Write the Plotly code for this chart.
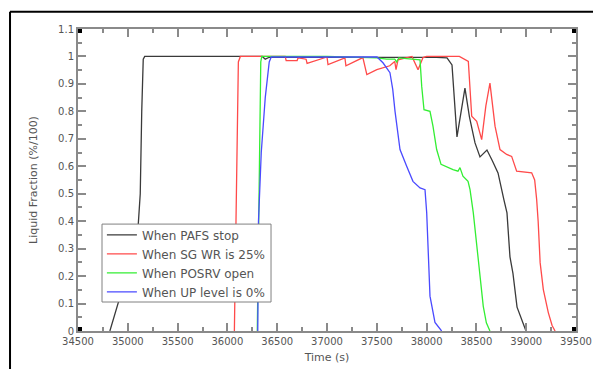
import plotly.graph_objects as go

# ---- data (time in s, liquid fraction) ----
pafs_t = [34820, 34920, 35000, 35100, 35125, 35140, 35155, 35170, 36350, 36380, 36420,
          37000, 37800, 38100, 38205, 38255, 38305, 38345, 38385, 38430, 38486, 38536, 38606,
          38660, 38717, 38777, 38807, 38837, 38867, 38908, 38968, 38998]
pafs_v = [0.0, 0.12, 0.22, 0.36, 0.5, 0.8, 0.99, 1.0, 1.0, 0.99, 0.997,
          0.997, 0.998, 0.997, 0.995, 0.969, 0.707, 0.8, 0.885, 0.78, 0.685, 0.634, 0.659,
          0.62, 0.576, 0.477, 0.43, 0.27, 0.21, 0.087, 0.029, 0.0]

sgwr_t = [36070, 36090, 36110, 36130, 36580, 36590, 36700, 36710, 36790, 36800,
          37000, 37010, 37180, 37190, 37360, 37400, 37500, 37630, 37680, 37693, 37713,
          37853, 37914, 37964, 38000, 38329, 38419, 38453, 38503, 38553, 38595, 38636,
          38687, 38737, 38804, 38854, 38904, 39055, 39085, 39105, 39120, 39140, 39172,
          39222, 39260, 39290]
sgwr_v = [0.0, 0.5, 0.98, 1.0, 1.0, 0.985, 0.985, 0.995, 0.99, 0.975,
          0.998, 0.970, 0.995, 0.966, 0.996, 0.934, 0.952, 0.966, 0.982, 0.952, 0.988,
          1.0, 0.952, 0.996, 1.0, 1.0, 0.982, 0.782, 0.764, 0.697, 0.82, 0.903,
          0.746, 0.661, 0.643, 0.636, 0.582, 0.576, 0.55, 0.479, 0.40, 0.249, 0.151,
          0.067, 0.02, 0.0]

posrv_t = [36300, 36320, 36335, 36345, 37000, 37500, 37600, 37680, 37700, 37720,
           37880, 37900, 37934, 37951, 37974, 38034, 38064, 38101, 38145, 38265, 38315,
           38335, 38365, 38416, 38436, 38469, 38503, 38536, 38569, 38600, 38636]
posrv_v = [0.0, 0.5, 0.98, 1.0, 1.0, 0.995, 0.99, 0.99, 0.98, 0.995,
           0.99, 0.988, 0.988, 0.891, 0.806, 0.800, 0.746, 0.661, 0.607, 0.588, 0.582,
           0.595, 0.564, 0.545, 0.515, 0.43, 0.309, 0.187, 0.09, 0.03, 0.0]

uplv_t = [36305, 36312, 36340, 36380, 36420, 36440, 37502, 37562, 37632, 37660,
          37683, 37733, 37800, 37863, 37934, 37984, 38001, 38017, 38034, 38084, 38151]
uplv_v = [0.0, 0.4, 0.65, 0.85, 0.98, 0.998, 0.998, 0.977, 0.941, 0.88,
          0.80, 0.661, 0.60, 0.545, 0.521, 0.515, 0.431, 0.249, 0.127, 0.031, 0.0]

names = ["When PAFS stop", "When SG WR is 25%", "When POSRV open", "When UP level is 0%"]
colors = ["#3a3a3a", "#ff4a4a", "#33ee33", "#4a4aff"]
series = [(pafs_t, pafs_v), (sgwr_t, sgwr_v), (posrv_t, posrv_v), (uplv_t, uplv_v)]

X_RANGE = [34500, 39500]
Y_RANGE = [0, 1.1]

fig = go.Figure()
for (t, v), n, c in zip(series, names, colors):
    fig.add_trace(go.Scatter(x=t, y=v, mode="lines", name=n,
                             line=dict(color=c, width=1.3)))

axis_col = "#8a8a8a"
tick_font = dict(family="DejaVu Sans", size=10, color="#555555")

fig.update_xaxes(range=X_RANGE, dtick=500, tick0=34500, tickformat="d", ticks="inside", ticklen=8,
                 tickwidth=1.5, tickcolor=axis_col, showline=True, linecolor=axis_col,
                 linewidth=2, mirror="ticks", showgrid=False, zeroline=False,
                 tickfont=tick_font, automargin=False,
                 minor=dict(dtick=250, ticks="inside", ticklen=4, tickcolor=axis_col, tickwidth=1.5),
                 title=dict(text="Time (s)", font=dict(family="DejaVu Sans", size=11, color="#555555"),
                            standoff=7))
fig.update_yaxes(range=Y_RANGE, dtick=0.1, tick0=0, ticks="inside", ticklen=8,
                 tickwidth=1.5, tickcolor=axis_col, showline=True, linecolor=axis_col,
                 linewidth=2, mirror="ticks", showgrid=False, zeroline=False,
                 tickfont=tick_font, automargin=False,
                 minor=dict(dtick=0.05, ticks="inside", ticklen=4, tickcolor=axis_col, tickwidth=1.5),
                 title=dict(text="Liquid Fraction (%/100)",
                            font=dict(family="DejaVu Sans", size=11, color="#555555"), standoff=18))

# corner squares
shapes = []
for cx in X_RANGE:
    for cy in Y_RANGE:
        shapes.append(dict(type="rect", xref="x", yref="y", xsizemode="pixel", ysizemode="pixel",
                           xanchor=cx, yanchor=cy, x0=-4, x1=4, y0=-4, y1=4,
                           fillcolor="black", line=dict(width=0), layer="above"))
# outer frame (top and left)
shapes.append(dict(type="line", xref="paper", yref="paper", x0=-0.1365, x1=1.05, y0=1.0573, y1=1.0573,
                   line=dict(color="black", width=2)))
shapes.append(dict(type="line", xref="paper", yref="paper", x0=-0.1365, x1=-0.1365, y0=1.0573, y1=-0.2,
                   line=dict(color="black", width=2)))
# legend box
shapes.append(dict(type="rect", xref="paper", yref="paper", x0=0.0482, x1=0.3876, y0=0.096, y1=0.354,
                   fillcolor="white", line=dict(color="#808080", width=1), layer="above"))

fig.update_layout(
    width=593, height=369,
    margin=dict(l=78, r=17, t=29, b=38, autoexpand=False),
    paper_bgcolor="white", plot_bgcolor="white",
    shapes=shapes,
    showlegend=True,
    legend=dict(x=0.048, y=0.366, xanchor="left", yanchor="top",
                bgcolor="rgba(0,0,0,0)", borderwidth=0,
                font=dict(family="DejaVu Sans", size=12, color="#555555"),
                itemwidth=30, tracegroupgap=0),
)

fig.write_html("out.html")
